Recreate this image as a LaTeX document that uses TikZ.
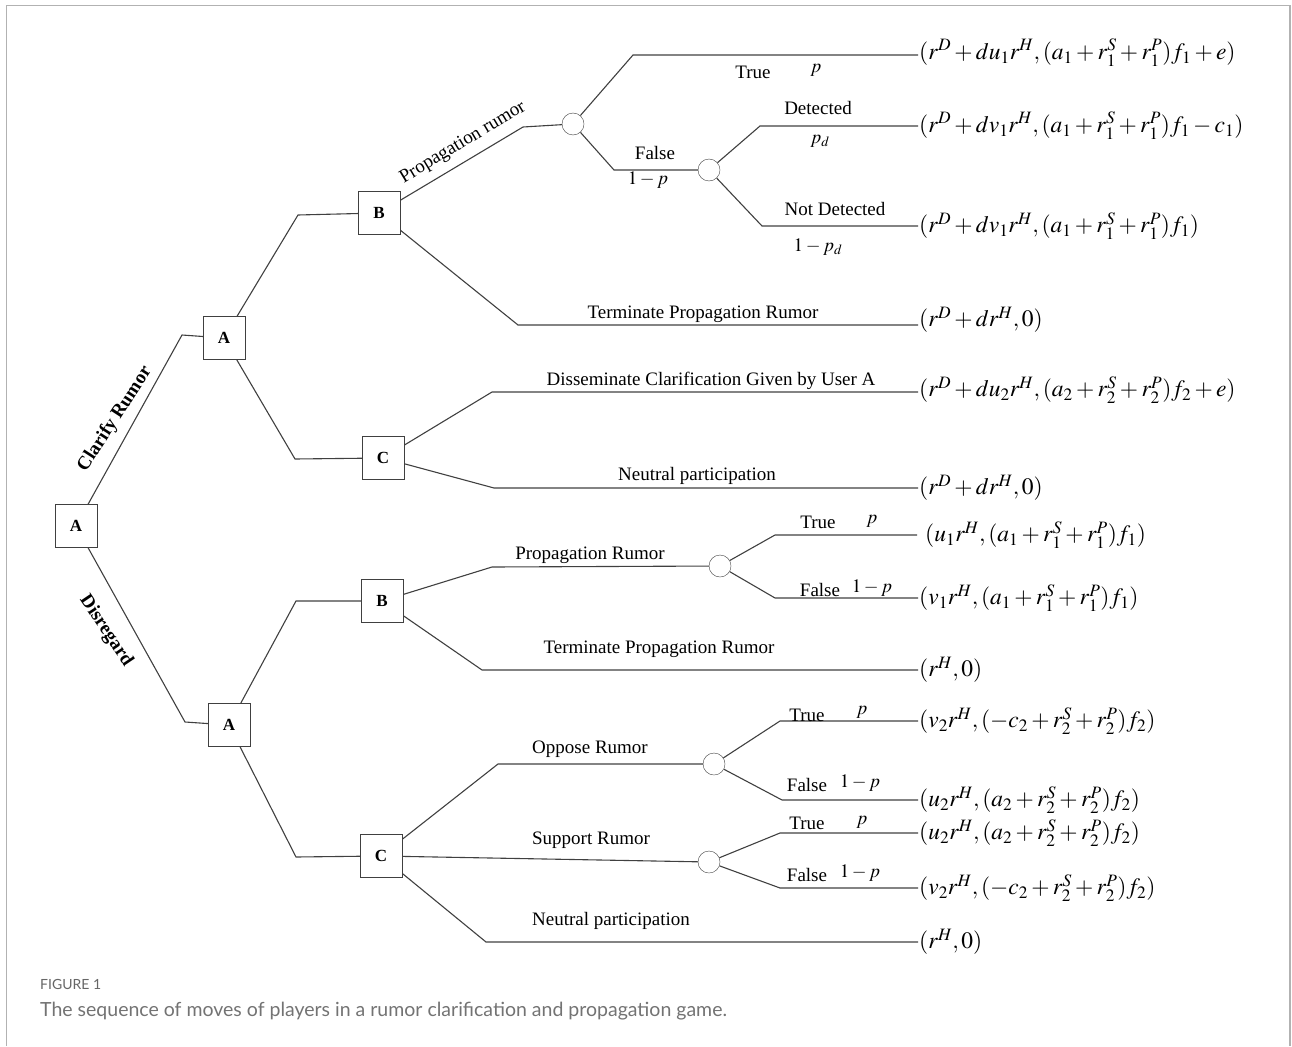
\documentclass[tikz,border=0pt]{standalone}
\usepackage{mathptmx}
\usepackage[no-math]{fontspec}
\setmainfont{Liberation Serif}
\newfontfamily\capfont{Lato}
\usetikzlibrary{backgrounds}
\begin{document}
\begin{tikzpicture}[x=1pt,y=-1pt,
  box/.style={draw=black!75, fill=white, minimum width=42pt, minimum height=43pt, inner sep=0pt, font=\fontsize{17}{17}\selectfont\bfseries},
  chance/.style={circle, draw=black!75, fill=white, minimum size=22pt, inner sep=0pt},
  edge/.style={draw=black!75, line width=1.1pt},
  lbl/.style={font=\fontsize{19}{19}\selectfont, inner sep=0pt},
  blbl/.style={font=\fontsize{19}{19}\selectfont\bfseries, inner sep=0pt},
  pay/.style={anchor=west, inner sep=1pt, font=\fontsize{23.5}{23.5}\selectfont}
]
\useasboundingbox (0,0) rectangle (1292,1046);
% frame
\draw[black!30, line width=1.5pt] (6.5,1046) -- (6.5,5.5) -- (1290,5.5) -- (1290,1046);

% decision and chance nodes
\node[box] (r) at (76,526) {A};
\node[box] (a1) at (224,338) {A};
\node[box] (b1) at (379,213) {B};
\node[box] (c1) at (383,458) {C};
\node[box] (a2) at (229,725) {A};
\node[box] (b2) at (382,601) {B};
\node[box] (c2) at (381,856) {C};
\node[chance] (k1) at (573,124) {};
\node[chance] (k2) at (709,170) {};
\node[chance] (k3) at (720,566) {};
\node[chance] (k4) at (714,764) {};
\node[chance] (k5) at (709,862) {};

% payoffs
\node[pay] (p1) at (918,53) {$(r^{D}+du_{1}r^{H},(a_{1}+r_{1}^{S}+r_{1}^{P})f_{1}+e)$};
\node[pay] (p2) at (918,126) {$(r^{D}+dv_{1}r^{H},(a_{1}+r_{1}^{S}+r_{1}^{P})f_{1}-c_{1})$};
\node[pay] (p3) at (918,226) {$(r^{D}+dv_{1}r^{H},(a_{1}+r_{1}^{S}+r_{1}^{P})f_{1})$};
\node[pay] (p4) at (918,320) {$(r^{D}+dr^{H},0)$};
\node[pay] (p5) at (918,390) {$(r^{D}+du_{2}r^{H},(a_{2}+r_{2}^{S}+r_{2}^{P})f_{2}+e)$};
\node[pay] (p6) at (918,488) {$(r^{D}+dr^{H},0)$};
\node[pay] (p7) at (924,535) {$(u_{1}r^{H},(a_{1}+r_{1}^{S}+r_{1}^{P})f_{1})$};
\node[pay] (p8) at (918,598) {$(v_{1}r^{H},(a_{1}+r_{1}^{S}+r_{1}^{P})f_{1})$};
\node[pay] (p9) at (918,670) {$(r^{H},0)$};
\node[pay] (p10) at (918,721) {$(v_{2}r^{H},(-c_{2}+r_{2}^{S}+r_{2}^{P})f_{2})$};
\node[pay] (p11) at (918,800) {$(u_{2}r^{H},(a_{2}+r_{2}^{S}+r_{2}^{P})f_{2})$};
\node[pay] (p12) at (918,833) {$(u_{2}r^{H},(a_{2}+r_{2}^{S}+r_{2}^{P})f_{2})$};
\node[pay] (p13) at (918,888) {$(v_{2}r^{H},(-c_{2}+r_{2}^{S}+r_{2}^{P})f_{2})$};
\node[pay] (p14) at (918,942) {$(r^{H},0)$};

% elbow coordinates
\coordinate (e0u) at (182,335);
\coordinate (e0d) at (185,722);
\coordinate (e1u) at (298,215);
\coordinate (e1d) at (295,459);
\coordinate (eb1u) at (523,127);
\coordinate (eb1d) at (518,325);
\coordinate (ek1u) at (633,55);
\coordinate (ek1d) at (614,170);
\coordinate (ek2u) at (760,126);
\coordinate (ek2d) at (762,226);
\coordinate (ec1u) at (492,392);
\coordinate (ec1d) at (494,488);
\coordinate (e2u) at (296,601);
\coordinate (e2d) at (296,857);
\coordinate (eb2u) at (492,567);
\coordinate (eb2d) at (482,670);
\coordinate (ek3u) at (775,535);
\coordinate (ek3d) at (775,598);
\coordinate (ek3e) at (917,535);
\coordinate (ec2u) at (498,764);
\coordinate (ec2d) at (486,942);
\coordinate (ek4u) at (780,721);
\coordinate (ek4d) at (782,800);
\coordinate (ek5u) at (780,833);
\coordinate (ek5d) at (780,888);

% connectors
\begin{scope}[on background layer]
\draw[edge] (r) -- (e0u) -- (a1);
\draw[edge] (r) -- (e0d) -- (a2);
\draw[edge] (a1) -- (e1u) -- (b1);
\draw[edge] (a1) -- (e1d) -- (c1);
\draw[edge] (b1) -- (eb1u) -- (k1);
\draw[edge] (b1) -- (eb1d) -- (eb1d -| p4.west);
\draw[edge] (k1) -- (ek1u) -- (ek1u -| p1.west);
\draw[edge] (k1) -- (ek1d) -- (k2);
\draw[edge] (k2) -- (ek2u) -- (ek2u -| p2.west);
\draw[edge] (k2) -- (ek2d) -- (ek2d -| p3.west);
\draw[edge] (c1) -- (ec1u) -- (ec1u -| p5.west);
\draw[edge] (c1) -- (ec1d) -- (ec1d -| p6.west);
\draw[edge] (a2) -- (e2u) -- (b2);
\draw[edge] (a2) -- (e2d) -- (c2);
\draw[edge] (b2) -- (eb2u) -- (k3);
\draw[edge] (b2) -- (eb2d) -- (eb2d -| p9.west);
\draw[edge] (k3) -- (ek3u) -- (ek3e);
\draw[edge] (k3) -- (ek3d) -- (ek3d -| p8.west);
\draw[edge] (c2) -- (ec2u) -- (k4);
\draw[edge] (c2) -- (k5);
\draw[edge] (c2) -- (ec2d) -- (ec2d -| p14.west);
\draw[edge] (k4) -- (ek4u) -- (ek4u -| p10.west);
\draw[edge] (k4) -- (ek4d) -- (ek4d -| p11.west);
\draw[edge] (k5) -- (ek5u) -- (ek5u -| p12.west);
\draw[edge] (k5) -- (ek5d) -- (ek5d -| p13.west);
\end{scope}

% branch labels
\node[blbl, rotate=57] (lcl) at (115,419) {Clarify Rumor};
\node[blbl, rotate=-56] (ldis) at (106,631) {Disregard};
\node[lbl, rotate=31] (lpr) at (463,143) {Propagation rumor};
\node[lbl] (t1) at (753,72) {True};
\node[lbl] (t1p) at (816,70) {$p$};
\node[lbl] (f1) at (655,153) {False};
\node[lbl] (f1p) at (648,180) {$1-p$};
\node[lbl] (det) at (818,108) {Detected};
\node[lbl] (detp) at (820,141) {$p_{d}$};
\node[lbl] (ndet) at (835,209) {Not Detected};
\node[lbl] (ndetp) at (818,247) {$1-p_{d}$};
\node[lbl] (term1) at (703,314) {Terminate Propagation Rumor};
\node[lbl] (diss) at (711,381) {Disseminate Clarification Given by User A};
\node[lbl] (neu1) at (697,476) {Neutral participation};
\node[lbl] (prop2) at (590,555) {Propagation Rumor};
\node[lbl] (t3) at (818,522) {True};
\node[lbl] (t3p) at (872,521) {$p$};
\node[lbl] (f3) at (820,590) {False};
\node[lbl] (f3p) at (872,588) {$1-p$};
\node[lbl] (term2) at (659,649) {Terminate Propagation Rumor};
\node[lbl] (opp) at (590,749) {Oppose Rumor};
\node[lbl] (t4) at (807,715) {True};
\node[lbl] (t4p) at (862,712) {$p$};
\node[lbl] (f4) at (807,785) {False};
\node[lbl] (f4p) at (860,783) {$1-p$};
\node[lbl] (sup) at (591,840) {Support Rumor};
\node[lbl] (t5) at (807,823) {True};
\node[lbl] (t5p) at (862,822) {$p$};
\node[lbl] (f5) at (807,875) {False};
\node[lbl] (f5p) at (860,873) {$1-p$};
\node[lbl] (neu2) at (611,921) {Neutral participation};

% caption
\node[anchor=west, inner sep=0pt, text=black!60, font=\capfont\fontsize{14}{14}\selectfont] (figlbl) at (40,984) {FIGURE 1};
\node[anchor=west, inner sep=0pt, text=black!55, font=\capfont\fontsize{19.5}{19.5}\selectfont] (cap) at (40,1011) {The sequence of moves of players in a rumor clarification and propagation game.};
\end{tikzpicture}
\end{document}
